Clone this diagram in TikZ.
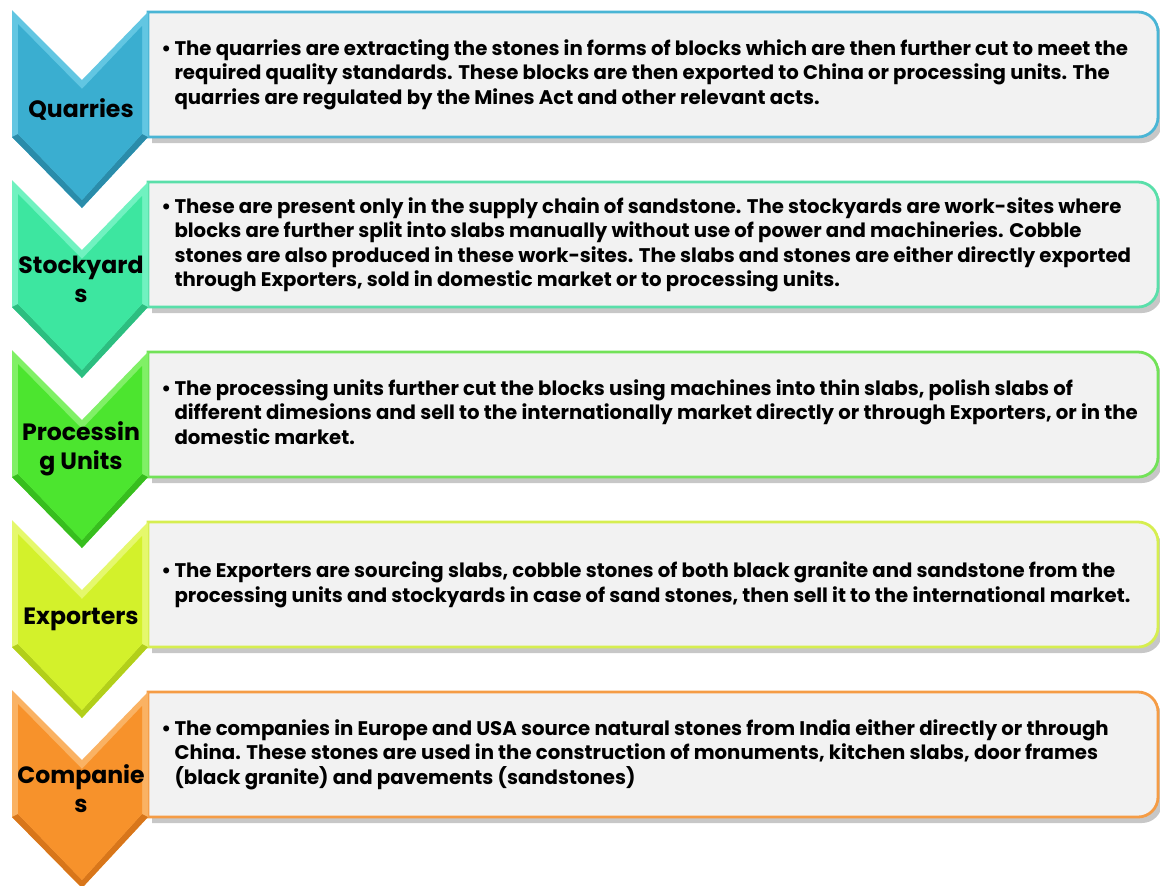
\documentclass[tikz,border=0pt]{standalone}
\usepackage{fontspec}
\setmainfont{Poppins}
\definecolor{boxfill}{HTML}{F2F2F2}
\definecolor{aM}{HTML}{3AAED0}\definecolor{aL}{HTML}{62C6E2}\definecolor{aD}{HTML}{2A8CAA}\definecolor{aB}{HTML}{4AB5D5}
\definecolor{bM}{HTML}{3DE6A0}\definecolor{bL}{HTML}{70F2C0}\definecolor{bD}{HTML}{2CBE80}\definecolor{bB}{HTML}{5ADFAA}
\definecolor{cM}{HTML}{4CE52F}\definecolor{cL}{HTML}{80F066}\definecolor{cD}{HTML}{37BE1E}\definecolor{cB}{HTML}{72E258}
\definecolor{dM}{HTML}{D3F12B}\definecolor{dL}{HTML}{E5F86C}\definecolor{dD}{HTML}{B2CF1A}\definecolor{dB}{HTML}{D6EE50}
\definecolor{eM}{HTML}{F7922B}\definecolor{eL}{HTML}{FAB263}\definecolor{eD}{HTML}{D8761A}\definecolor{eB}{HTML}{F59C45}
\newcommand\bodyfont{\fontsize{9.85}{12.25}\selectfont\bfseries}
\newcommand\lblfont{\fontsize{11.8}{14.5}\selectfont\bfseries}
\tikzset{
  desc/.style={anchor=west, inner sep=0pt, font=\bodyfont, align=left},
  lbl/.style={font=\lblfont, align=center, inner sep=0pt, text=black},
  boxshadow/.style={fill=black, opacity=0.22},
  stagebox/.style={fill=boxfill, line width=1.4pt},
}
% #1 top, #2 color prefix, #3 node name, #4 label, #5 text
\newcommand\stage[5]{%
  \fill[boxshadow] (152,#1+8) -- (1142,#1+8) arc(90:0:10pt) -- (1162,#1+113) arc(0:-90:10pt) -- (152,#1+133) -- cycle;
  \filldraw[stagebox, draw=#2B] (148,#1+2) -- (1138,#1+2) arc(90:0:10pt) -- (1158,#1+107) arc(0:-90:10pt) -- (148,#1+127) -- cycle;
  \node[desc] (#3text) at (161,#1+65) {#5};
  \fill[#2L] (12,#1) -- (82,#1+70) -- (148,#1+2) -- (148,#1+127) -- (82,#1+198) -- (12,#1+127) -- cycle;
  \fill[#2D] (148,#1+127) -- (82,#1+198) -- (12,#1+127) -- (18,#1+124) -- (82,#1+190) -- (142,#1+124) -- cycle;
  \fill[#2M] (18,#1+14) -- (82,#1+79) -- (142,#1+16) -- (142,#1+124) -- (82,#1+190) -- (18,#1+124) -- cycle;
  \node[lbl] (#3) at (81,#1+99) {#4};
}
\begin{document}
\begin{tikzpicture}[x=0.5pt,y=-0.5pt]
\useasboundingbox (0,0) rectangle (1160,885);
\fill[white] (0,0) rectangle (1160,885);
\stage{10}{a}{quarries}{Quarries}{\begin{tabular}{@{}l@{\,}l@{}}\textbullet & The quarries are extracting the stones in forms of blocks which are then further cut to meet the\\
 & required quality standards. These blocks are then exported to China or processing units. The\\
 & quarries are regulated by the Mines Act and other relevant acts.\end{tabular}}
\stage{180}{b}{stockyards}{Stockyard\\s}{\begin{tabular}{@{}l@{\,}l@{}}\textbullet & These are present only in the supply chain of sandstone. The stockyards are work-sites where\\
 & blocks are further split into slabs manually without use of power and machineries. Cobble\\
 & stones are also produced in these work-sites. The slabs and stones are either directly exported\\
 & through Exporters, sold in domestic market or to processing units.\end{tabular}}
\stage{350}{c}{processing}{Processin\\g Units}{\begin{tabular}{@{}l@{\,}l@{}}\textbullet & The processing units further cut the blocks using machines into thin slabs, polish slabs of\\
 & different dimesions and sell to the internationally market directly or through Exporters, or in the\\
 & domestic market.\end{tabular}}
\stage{520}{d}{exporters}{Exporters}{\begin{tabular}{@{}l@{\,}l@{}}\textbullet & The Exporters are sourcing slabs, cobble stones of both black granite and sandstone from the\\
 & processing units and stockyards in case of sand stones, then sell it to the international market.\end{tabular}}
\stage{690}{e}{companies}{Companie\\s}{\begin{tabular}{@{}l@{\,}l@{}}\textbullet & The companies in Europe and USA source natural stones from India either directly or through\\
 & China. These stones are used in the construction of monuments, kitchen slabs, door frames\\
 & (black granite) and pavements (sandstones)\end{tabular}}
\end{tikzpicture}
\end{document}
